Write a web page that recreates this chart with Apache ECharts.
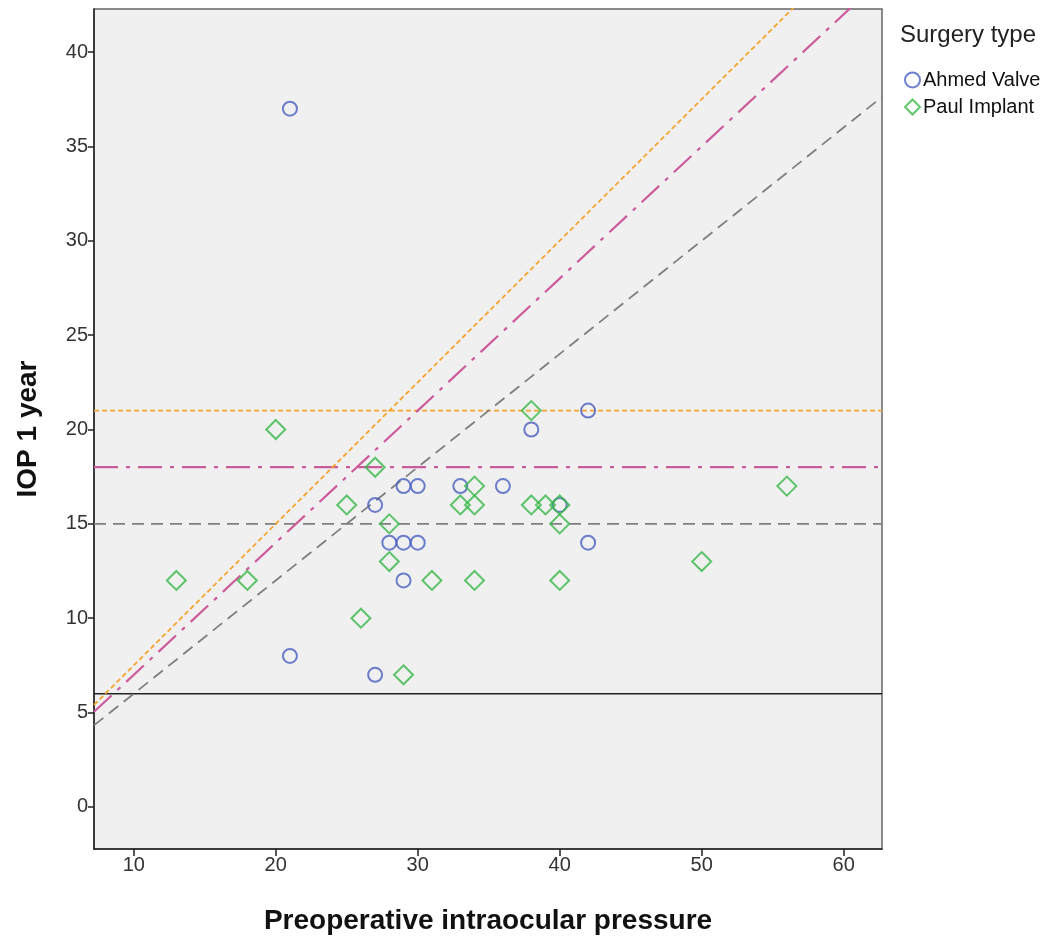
<!DOCTYPE html>
<html>
<head>
<meta charset="utf-8">
<script src="https://cdn.jsdelivr.net/npm/echarts@6/dist/echarts.min.js"></script>
<style>
  html, body { margin: 0; padding: 0; background: #ffffff; }
  #chart { width: 1050px; height: 937px; }
</style>
</head>
<body>
<div id="chart"></div>
<script>
// Preoperative IOP (x) against IOP at 1 year (y), per surgery type
const ahmedValve = [
  [21, 37], [21, 8], [27, 7], [27, 16], [28, 14], [29, 17], [29, 14], [29, 12],
  [30, 17], [30, 14], [33, 17], [36, 17], [38, 20], [40, 16], [42, 21], [42, 14]
];
const paulImplant = [
  [13, 12], [18, 12], [20, 20], [25, 16], [26, 10], [27, 18], [28, 15], [28, 13],
  [29, 7], [31, 12], [33, 16], [34, 17], [34, 16], [34, 12], [38, 21], [38, 16],
  [39, 16], [40, 16], [40, 15], [40, 12], [50, 13], [56, 17]
];

// Reference lines: absolute IOP thresholds and proportional reduction lines (y = k * x)
const thresholds = [21, 18, 15, 6];
const reductionSlopes = [0.75, 0.7, 0.6];

const xTicks = [10, 20, 30, 40, 50, 60];
const yTicks = [0, 5, 10, 15, 20, 25, 30, 35, 40];

const xRange = [7.2, 62.7];
const yRange = [-2.23, 42.28];

const lineStyles = {
  21:   { color: '#f7a431', width: 1.8, type: [5, 3] },
  18:   { color: '#cc5b9b', width: 2.2, type: [24, 8, 4, 8] },
  15:   { color: '#7f7f7f', width: 1.8, type: [12, 7] },
  6:    { color: '#222222', width: 1.6, type: 'solid' }
};
const slopeStyles = {
  0.75: lineStyles[21],
  0.7:  lineStyles[18],
  0.6:  lineStyles[15]
};

const blue = '#4a5fc0';
const green = '#38b848';

const series = [];

thresholds.forEach(function (t) {
  series.push({
    type: 'line',
    silent: true,
    symbol: 'none',
    z: 1,
    clip: true,
    lineStyle: lineStyles[t],
    data: [[xRange[0], t], [xRange[1], t]]
  });
});

reductionSlopes.forEach(function (k) {
  series.push({
    type: 'line',
    silent: true,
    symbol: 'none',
    z: 1,
    clip: true,
    lineStyle: slopeStyles[k],
    data: [[xRange[0], k * xRange[0]], [xRange[1], k * xRange[1]]]
  });
});

series.push({
  name: 'Ahmed Valve',
  type: 'scatter',
  symbol: 'circle',
  symbolSize: 14,
  z: 3,
  itemStyle: { color: 'rgba(0,0,0,0)', borderColor: blue, borderWidth: 2 },
  data: ahmedValve
});
series.push({
  name: 'Paul Implant',
  type: 'scatter',
  symbol: 'diamond',
  symbolSize: 19,
  z: 3,
  itemStyle: { color: 'rgba(0,0,0,0)', borderColor: green, borderWidth: 2 },
  data: paulImplant
});

const chart = echarts.init(document.getElementById('chart'), null, { renderer: 'canvas' });

chart.setOption({
  animation: false,
  backgroundColor: '#ffffff',
  textStyle: { fontFamily: 'Liberation Sans, Arial, sans-serif' },
  grid: {
    left: 94, top: 9, width: 788, height: 840,
    outerBoundsMode: 'none',
    containLabel: false,
    show: true,
    backgroundColor: '#f0f0f0',
    borderColor: '#666666',
    borderWidth: 1.5
  },
  graphic: [{
    type: 'text',
    left: 900,
    top: 23,
    style: {
      text: 'Surgery type',
      fill: '#222222',
      font: '24px Liberation Sans, Arial, sans-serif'
    }
  }],
  legend: {
    orient: 'vertical',
    left: 899,
    top: 65,
    itemGap: 7,
    itemWidth: 15,
    itemHeight: 15,
    textStyle: { fontSize: 20, color: '#111111', padding: [0, 0, 0, -2] },
    data: [
      { name: 'Ahmed Valve', icon: 'circle',
        itemStyle: { color: 'rgba(0,0,0,0)', borderColor: blue, borderWidth: 2 } },
      { name: 'Paul Implant', icon: 'diamond',
        itemStyle: { color: 'rgba(0,0,0,0)', borderColor: green, borderWidth: 2 } }
    ]
  },
  xAxis: {
    type: 'value',
    min: xRange[0],
    max: xRange[1],
    name: 'Preoperative intraocular pressure',
    nameLocation: 'middle',
    nameGap: 58,
    nameTextStyle: { fontSize: 28, fontWeight: 'bold', color: '#111111' },
    splitLine: { show: false },
    axisLine: { show: true, onZero: false, lineStyle: { color: '#222222', width: 1.5 } },
    axisTick: { show: true, length: 7, customValues: xTicks, lineStyle: { color: '#222222', width: 1.5 } },
    axisLabel: { customValues: xTicks, fontSize: 20, color: '#333333', margin: 6 }
  },
  yAxis: {
    type: 'value',
    min: yRange[0],
    max: yRange[1],
    name: 'IOP 1 year',
    nameLocation: 'middle',
    nameGap: 52,
    nameTextStyle: { fontSize: 28, fontWeight: 'bold', color: '#111111' },
    splitLine: { show: false },
    axisLine: { show: true, onZero: false, lineStyle: { color: '#222222', width: 1.5 } },
    axisTick: { show: true, length: 6, customValues: yTicks, lineStyle: { color: '#222222', width: 1.5 } },
    axisLabel: { customValues: yTicks, fontSize: 20, color: '#333333', margin: 6 }
  },
  series: series
});
</script>
</body>
</html>
